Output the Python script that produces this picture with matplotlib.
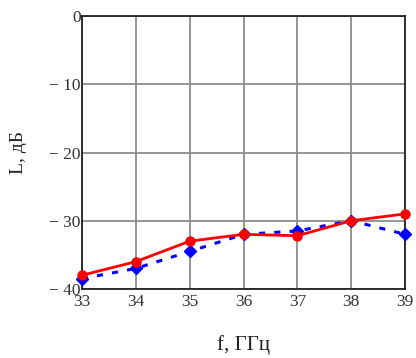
import matplotlib
matplotlib.use("Agg")
import matplotlib.pyplot as plt

# частота, ГГц
f = [33, 34, 35, 36, 37, 38, 39]
# потери, дБ (две кривые)
L_red = [-38, -36, -33, -32, -32.2, -30, -29]
L_blue = [-38.5, -37, -34.5, -32, -31.5, -30, -32]

y_ticks = [0, -10, -20, -30, -40]
y_labels = ['0', '\u2212 10', '\u2212 20', '\u2212 30', '\u2212 40']

plt.rcParams['font.family'] = ['Liberation Serif', 'DejaVu Serif']

fig = plt.figure(figsize=(4.16, 3.58), dpi=100)
ax = fig.add_axes([0.197, 0.193, 0.777, 0.762])

ax.plot(f, L_blue, color='#0000ff', linestyle=(0, (2, 3)), linewidth=2.2,
        marker='D', markersize=6, zorder=3, clip_on=False)
ax.plot(f, L_red, color='#ff0000', linestyle='-', linewidth=2.0,
        marker='o', markersize=6.5, zorder=4, clip_on=False)

ax.set_xlim(33, 39)
ax.set_ylim(-40, 0)
ax.set_xticks(f)
ax.set_yticks(y_ticks)
ax.set_yticklabels(y_labels)
ax.tick_params(length=0, labelsize=12.5, colors='#333333')
ax.tick_params(axis='x', pad=4)
ax.tick_params(axis='y', pad=1)
ax.grid(True, color='#8c8c8c', linewidth=1.3)
for s in ax.spines.values():
    s.set_color('#222222')
    s.set_linewidth(1.3)

ax.set_xlabel('f, ГГц', fontsize=15, labelpad=18, color='#222222')
ax.set_ylabel('L, дБ', fontsize=14, labelpad=16, color='#222222')

fig.savefig('out.png', dpi=100)
